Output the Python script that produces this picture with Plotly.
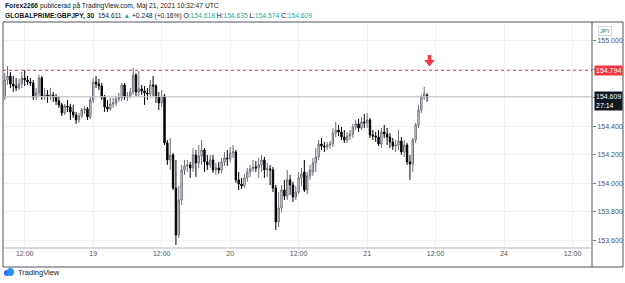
import plotly.graph_objects as go

# ---- data (GBPJPY 30-min bars, 18 May 08:30 -> 21 May 10:30) ----
opens = [154.607,154.726,154.754,154.698,154.684,154.670,154.698,154.740,154.726,154.712,
         154.705,154.607,154.635,154.740,154.614,154.621,154.614,154.621,154.607,154.579,
         154.551,154.495,154.544,154.537,154.502,154.481,154.446,154.474,154.516,154.523,
         154.467,154.586,154.712,154.698,154.684,154.607,154.537,154.523,154.558,154.565,
         154.593,154.600,154.691,154.607,154.614,154.642,154.761,154.642,154.663,154.649,
         154.635,154.628,154.691,154.684,154.607,154.565,154.614,154.284,154.165,154.200,
         153.968,153.639,153.884,154.095,154.123,154.130,154.109,154.200,154.144,154.193,
         154.235,154.151,154.130,154.165,154.095,154.109,154.095,154.151,154.179,154.172,
         154.214,154.221,154.025,153.996,153.982,154.039,154.081,154.102,154.116,154.109,
         154.130,154.165,154.095,154.102,154.095,153.968,153.730,153.828,153.954,153.912,
         154.025,153.989,153.905,153.940,154.039,154.081,153.954,154.053,154.081,154.144,
         154.186,154.277,154.263,154.256,154.270,154.277,154.354,154.375,154.361,154.326,
         154.305,154.333,154.347,154.396,154.418,154.389,154.432,154.425,154.446,154.340,
         154.333,154.326,154.277,154.361,154.347,154.326,154.291,154.263,154.270,154.298,
         154.221,154.270,154.151,154.137,154.305,154.411,154.516,154.607,154.618]
closes = [154.726,154.754,154.698,154.684,154.670,154.698,154.740,154.726,154.712,154.705,
          154.607,154.635,154.740,154.614,154.621,154.614,154.621,154.607,154.579,154.551,
          154.495,154.544,154.537,154.502,154.481,154.446,154.474,154.516,154.523,154.467,
          154.586,154.712,154.698,154.684,154.607,154.537,154.523,154.558,154.565,154.593,
          154.600,154.691,154.607,154.614,154.642,154.761,154.642,154.663,154.649,154.635,
          154.628,154.691,154.684,154.607,154.565,154.614,154.284,154.165,154.200,153.968,
          153.639,153.884,154.095,154.123,154.130,154.109,154.200,154.144,154.193,154.235,
          154.151,154.130,154.165,154.095,154.109,154.095,154.151,154.179,154.172,154.214,
          154.221,154.025,153.996,153.982,154.039,154.081,154.102,154.116,154.109,154.130,
          154.165,154.095,154.102,154.095,153.968,153.730,153.828,153.954,153.912,154.025,
          153.989,153.905,153.940,154.039,154.067,153.954,154.053,154.095,154.144,154.186,
          154.277,154.263,154.256,154.270,154.277,154.354,154.375,154.361,154.326,154.305,
          154.333,154.347,154.396,154.418,154.389,154.432,154.425,154.446,154.340,154.333,
          154.326,154.277,154.361,154.347,154.326,154.291,154.263,154.270,154.298,154.221,
          154.270,154.151,154.137,154.305,154.411,154.516,154.607,154.628,154.609]
highs = [154.775,154.825,154.782,154.754,154.740,154.733,154.782,154.796,154.754,154.740,
         154.726,154.670,154.761,154.754,154.670,154.656,154.670,154.642,154.628,154.607,
         154.565,154.558,154.586,154.558,154.551,154.502,154.495,154.530,154.544,154.537,
         154.607,154.740,154.754,154.733,154.705,154.621,154.586,154.600,154.600,154.614,
         154.635,154.705,154.705,154.642,154.670,154.811,154.775,154.789,154.691,154.684,
         154.670,154.726,154.754,154.698,154.642,154.656,154.628,154.305,154.319,154.214,
         154.165,153.982,154.130,154.165,154.165,154.151,154.249,154.235,154.270,154.305,
         154.249,154.200,154.200,154.200,154.144,154.151,154.179,154.221,154.235,154.256,
         154.270,154.235,154.081,154.039,154.067,154.109,154.130,154.165,154.158,154.179,
         154.200,154.186,154.144,154.130,154.116,153.989,153.940,153.989,154.025,154.095,
         154.060,154.011,153.982,154.081,154.109,154.165,154.081,154.130,154.179,154.249,
         154.305,154.319,154.291,154.291,154.298,154.389,154.432,154.411,154.396,154.375,
         154.361,154.375,154.418,154.446,154.453,154.467,154.488,154.495,154.460,154.375,
         154.361,154.375,154.389,154.411,154.389,154.354,154.319,154.305,154.375,154.326,
         154.305,154.284,154.200,154.319,154.425,154.551,154.621,154.677,154.635]
lows = [154.586,154.691,154.670,154.642,154.649,154.656,154.670,154.684,154.691,154.684,
        154.586,154.586,154.607,154.586,154.586,154.565,154.586,154.572,154.551,154.530,
        154.474,154.481,154.502,154.446,154.460,154.418,154.425,154.460,154.488,154.446,
        154.453,154.565,154.670,154.656,154.586,154.502,154.502,154.509,154.530,154.544,
        154.572,154.579,154.586,154.579,154.600,154.621,154.614,154.607,154.621,154.551,
        154.586,154.614,154.614,154.565,154.516,154.537,154.270,154.130,154.095,153.954,
        153.568,153.618,153.849,154.060,154.081,154.039,154.081,154.046,154.109,154.130,
        154.081,154.095,154.109,154.074,154.060,154.067,154.074,154.123,154.123,154.151,
        154.179,154.004,153.954,153.961,153.968,154.011,154.046,154.081,154.081,154.039,
        154.081,154.039,154.046,153.989,153.940,153.674,153.695,153.800,153.884,153.884,
        153.919,153.870,153.884,153.926,153.982,153.940,153.926,154.025,154.053,154.081,
        154.165,154.235,154.221,154.235,154.242,154.256,154.326,154.333,154.305,154.284,
        154.284,154.305,154.319,154.375,154.361,154.375,154.389,154.389,154.319,154.305,
        154.291,154.263,154.249,154.319,154.270,154.249,154.235,154.221,154.235,154.200,
        154.186,154.130,154.025,154.081,154.284,154.389,154.495,154.586,154.574]

tick_bars = [7, 31, 55, 79, 103, 127, 151, 175, 199]
tick_labels = ["12:00", "19", "12:00", "20", "12:00", "21", "12:00", "24", "12:00"]
price_ticks = [153.6, 153.8, 154.0, 154.2, 154.4, 154.6, 154.8, 155.0]
alert_level = 154.794
last_price = 154.609
countdown = "27:14"

bars = list(range(len(opens)))

fig = go.Figure()
fig.add_trace(go.Candlestick(
    x=bars, open=opens, high=highs, low=lows, close=closes,
    increasing=dict(fillcolor="#ffffff", line=dict(color="#6a6d78", width=1)),
    decreasing=dict(fillcolor="#000000", line=dict(color="#000000", width=1)),
    whiskerwidth=0, showlegend=False, hoverinfo="skip"))

L, R, T, B = 3, 33, 22, 35
W, H = 625, 283
pw, ph = W - L - R, H - T - B
def px(x):  # pixel -> paper x
    return (x - L) / pw
def py(y):  # pixel -> paper y
    return (H - B - y) / ph

fontfam = "Liberation Sans, Arial, sans-serif"
grid = "#eef0f5"

fig.update_layout(
    width=W, height=H, margin=dict(l=L, r=R, t=T, b=B),
    paper_bgcolor="white", plot_bgcolor="white",
    font=dict(family=fontfam, size=7, color="#50535e"),
    xaxis=dict(range=[-0.6, 205.8], tickvals=tick_bars, ticktext=tick_labels,
               showgrid=True, gridcolor=grid, gridwidth=1, zeroline=False,
               showline=False, ticks="", rangeslider=dict(visible=False),
               tickfont=dict(size=7, color="#50535e"), fixedrange=True),
    yaxis=dict(range=[153.547, 155.133], side="right", tickvals=price_ticks,
               ticktext=[f"{v:.3f}" for v in price_ticks],
               showgrid=True, gridcolor=grid, zeroline=False, showline=False,
               ticks="outside", ticklen=3, tickcolor="#787b86",
               tickfont=dict(size=7, color="#50535e"), fixedrange=True),
)

# red down-arrow marker (pixel geometry -> paper coords)
ax_c, sh_w, hd_w = 429.5, 1.8, 5.2
arrow_path = (f"M {px(ax_c-sh_w)},{py(55)} L {px(ax_c+sh_w)},{py(55)} "
              f"L {px(ax_c+sh_w)},{py(60)} L {px(ax_c+hd_w)},{py(60)} "
              f"L {px(ax_c)},{py(66.5)} L {px(ax_c-hd_w)},{py(60)} "
              f"L {px(ax_c-sh_w)},{py(60)} Z")

frame = "#50535e"
shapes = [
    dict(type="line", xref="paper", yref="y", x0=0, x1=1, y0=last_price, y1=last_price,
         line=dict(color="#c3c5cc", width=1)),
    dict(type="line", xref="paper", yref="y", x0=0, x1=1, y0=alert_level, y1=alert_level,
         line=dict(color="#f23645", width=1, dash="dot")),
    dict(type="line", xref="paper", yref="paper", x0=px(3), x1=px(623), y0=py(22), y1=py(22),
         line=dict(color=frame, width=1)),
    dict(type="line", xref="paper", yref="paper", x0=px(3), x1=px(623), y0=py(267), y1=py(267),
         line=dict(color=frame, width=1)),
    dict(type="line", xref="paper", yref="paper", x0=px(3), x1=px(3), y0=py(22), y1=py(267),
         line=dict(color=frame, width=1)),
    dict(type="line", xref="paper", yref="paper", x0=px(623), x1=px(623), y0=py(22), y1=py(267),
         line=dict(color=frame, width=1)),
    dict(type="line", xref="paper", yref="paper", x0=1, x1=1, y0=py(22), y1=py(267),
         line=dict(color=frame, width=1)),
    dict(type="line", xref="paper", yref="paper", x0=0, x1=1, y0=0, y1=0,
         line=dict(color="#b2b5be", width=1)),
    dict(type="path", xref="paper", yref="paper", path=arrow_path,
         fillcolor="#f23645", line=dict(width=0)),
    # TradingView cloud logo
    dict(type="circle", xref="paper", yref="paper", x0=px(4), x1=px(10), y0=py(276), y1=py(270),
         fillcolor="#2962ff", line=dict(width=0)),
    dict(type="circle", xref="paper", yref="paper", x0=px(7), x1=px(14), y0=py(276), y1=py(268),
         fillcolor="#2196f3", line=dict(width=0)),
]
fig.update_layout(shapes=shapes)

teal = "#26a69a"
ann = [
    dict(xref="paper", yref="paper", x=px(3), y=py(6), xanchor="left", yanchor="middle",
         showarrow=False, font=dict(size=6.7, color="#131722"),
         text="<b>Forex2266</b> publicerad på TradingView.com, Maj 21, 2021 10:32:47 UTC"),
    dict(xref="paper", yref="paper", x=px(3), y=py(16), xanchor="left", yanchor="middle",
         showarrow=False, font=dict(size=6.7, color="#131722"),
         text=(f"<b>GLOBALPRIME:GBPJPY, 30</b>  154.611 <span style='color:{teal}'>▲</span> +0.248 (+0.16%) "
               f"O:<span style='color:{teal}'>154.618</span> H:<span style='color:{teal}'>154.635</span> "
               f"L:<span style='color:{teal}'>154.574</span> C:<span style='color:{teal}'>154.609</span>")),
    dict(xref="paper", yref="y", x=px(594), y=alert_level, xanchor="left", yanchor="middle",
         showarrow=False, text=f"{alert_level:.3f}", bgcolor="#f23645",
         font=dict(size=7, color="white"), borderpad=1),
    dict(xref="paper", yref="y", x=px(594), y=last_price, xanchor="left", yanchor="top",
         yshift=6, showarrow=False, text=f"{last_price:.3f}<br>{countdown}", bgcolor="#131722",
         font=dict(size=7, color="white"), borderpad=1, align="left"),
    dict(xref="paper", yref="paper", x=px(605), y=py(31), xanchor="center", yanchor="middle",
         showarrow=False, text="JPY", bordercolor="#d1d4dc", borderwidth=1, borderpad=1,
         font=dict(size=5.5, color="#50535e")),
    dict(xref="paper", yref="paper", x=px(16), y=py(272), xanchor="left", yanchor="middle",
         showarrow=False, text="TradingView", font=dict(size=7.5, color="#131722")),
]
fig.update_layout(annotations=ann)

fig.write_html("out.html")
